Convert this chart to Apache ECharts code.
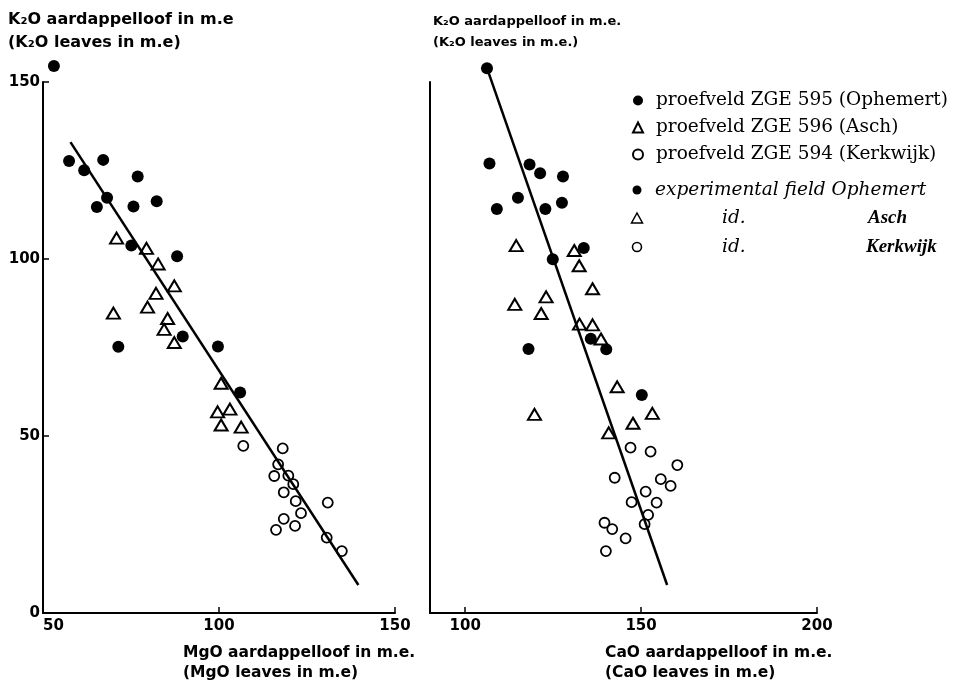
<!DOCTYPE html>
<html><head><meta charset="utf-8">
<script src="https://cdn.jsdelivr.net/npm/echarts@6/dist/echarts.min.js"></script>
<style>html,body{margin:0;padding:0;background:#fff}#c{width:964px;height:685px}</style>
</head><body><div id="c"></div>
<script>
// ---- data ----
const seriesNames = ['proefveld ZGE 595 (Ophemert)', 'proefveld ZGE 596 (Asch)', 'proefveld ZGE 594 (Kerkwijk)'];

// Left panel: [MgO, K2O]
const mgOphemert = [[53.1,154.5],[57.4,127.7],[61.7,125.1],[67.1,128],[76.9,123.3],[68.2,117.3],[65.3,114.7],[75.7,114.8],[82.3,116.3],[75.1,103.8],[88.1,100.8],[71.4,75.2],[89.7,78.1],[99.7,75.3],[106,62.3]];
const mgAsch = [[70.9,105.9],[79.4,103],[82.7,98.6],[87.3,92.4],[82.1,90.3],[70,84.7],[79.7,86.4],[85.4,83.2],[84.4,80.1],[87.3,76.4],[100.6,64.9],[99.6,56.8],[103.1,57.6],[100.6,53.1],[106.3,52.5]];
const mgKerkwijk = [[106.9,47.2],[118.1,46.5],[116.8,42],[115.7,38.7],[119.7,38.8],[121.1,36.4],[118.4,34.1],[121.8,31.6],[130.9,31.2],[123.3,28.2],[118.4,26.6],[121.6,24.6],[116.2,23.5],[130.6,21.3],[134.9,17.5]];
const mgFitLine = [[57.8,133],[139.6,7.9]];

// Right panel: [CaO, K2O]
const caOphemert = [[106.2,153.9],[106.9,127],[118.3,126.7],[121.3,124.2],[127.8,123.3],[115,117.3],[109,114.1],[122.8,114.1],[127.5,115.9],[133.7,103.1],[124.9,99.9],[135.7,77.5],[140.1,74.5],[118,74.6],[150.2,61.6]];
const caAsch = [[114.5,103.8],[131,102.4],[132.4,98.1],[136.2,91.6],[123,89.3],[114.1,87.2],[121.6,84.6],[132.5,81.6],[136.2,81.4],[138.6,77.4],[143.2,63.9],[119.7,56.1],[153.2,56.4],[147.7,53.6],[140.8,50.9]];
const caKerkwijk = [[147,46.7],[152.7,45.6],[160.3,41.8],[142.5,38.2],[155.6,37.8],[158.4,35.9],[151.3,34.3],[147.3,31.3],[154.4,31.2],[152,27.7],[151,25.1],[139.6,25.5],[141.8,23.7],[145.6,21.1],[140,17.5]];
const caFitLine = [[106.2,153.9],[157.4,7.9]];

const xTicksMg = [50, 100, 150];
const xTicksCa = [100, 150, 200];
const yTicks = [0, 50, 100, 150];

// ---- styling ----
const SANS = 'DejaVu Sans';
const SERIF = 'DejaVu Serif';
const axisLine = {show: true, lineStyle: {color: '#000', width: 2}};
const tick = {show: true, inside: true, length: 6, lineStyle: {color: '#000', width: 1.5}};
const lbl = {color: '#000', fontFamily: SANS, fontWeight: 'bold', fontSize: 15};

const filledStyle = {color: '#000', opacity: 1};
const triStyle = {color: '#fff', borderColor: '#000', borderWidth: 2, opacity: 1};
const ringStyle = {color: '#fff', borderColor: '#000', borderWidth: 1.8, opacity: 1};

function scatter(name, data, idx, symbol, size, style) {
  return {name, type: 'scatter', xAxisIndex: idx, yAxisIndex: idx, data, symbol, symbolSize: size,
    itemStyle: style, clip: false, z: 2, emphasis: {disabled: true}};
}
function fit(data, idx) {
  return {type: 'line', xAxisIndex: idx, yAxisIndex: idx, data, symbol: 'none', clip: false,
    lineStyle: {color: '#000', width: 2.5}, z: 3, silent: true};
}

function txt(x, y, text, font) {
  return {type: 'text', x, y, style: Object.assign({text, fill: '#000', textVerticalAlign: 'middle'}, font)};
}
const yTitleFont = {font: 'bold 16px "DejaVu Sans"'};
const yTitleFontR = {font: 'bold 13px "DejaVu Sans"'};
const xTitleFont = {font: 'bold 15.5px "DejaVu Sans"'};
const italicFont = {font: 'italic 18.5px "DejaVu Serif"'};
const boldItalicFont = {font: 'italic bold 19px "Liberation Serif"'};

const LX = 637; // legend marker centre x
const rowsY = [190, 218, 247];

const chart = echarts.init(document.getElementById('c'), null, {renderer: 'canvas'});
chart.setOption({
  animation: false,
  backgroundColor: '#fff',
  grid: [
    {left: 43, top: 82, width: 352, height: 531},
    {left: 430, top: 82, width: 387, height: 531}
  ],
  xAxis: [
    {gridIndex: 0, type: 'value', min: 50, max: 150, interval: 50, axisLine, axisTick: tick,
     axisLabel: Object.assign({margin: 6, alignMinLabel: 'left'}, lbl), splitLine: {show: false}},
    {gridIndex: 1, type: 'value', min: 90, max: 200, axisLine,
     axisTick: Object.assign({customValues: xTicksCa}, tick),
     axisLabel: Object.assign({margin: 6, customValues: xTicksCa}, lbl), splitLine: {show: false}}
  ],
  yAxis: [
    {gridIndex: 0, type: 'value', min: 0, max: 150, interval: 50, axisLine, axisTick: tick,
     axisLabel: Object.assign({margin: 3}, lbl), splitLine: {show: false}},
    {gridIndex: 1, type: 'value', min: 0, max: 150, interval: 50, axisLine, axisTick: {show: false},
     axisLabel: {show: false}, splitLine: {show: false}}
  ],
  legend: {
    orient: 'vertical', left: 632, top: 91, padding: 0, itemGap: 8,
    itemWidth: 10, itemHeight: 10,
    data: seriesNames,
    textStyle: {color: '#000', fontFamily: SERIF, fontSize: 18.5, padding: [0, 0, 0, 8]},
    selectedMode: false
  },
  series: [
    scatter(seriesNames[0], mgOphemert, 0, 'circle', 12, filledStyle),
    scatter(seriesNames[1], mgAsch, 0, 'triangle', [13, 11], triStyle),
    scatter(seriesNames[2], mgKerkwijk, 0, 'circle', 10, ringStyle),
    fit(mgFitLine, 0),
    scatter(seriesNames[0], caOphemert, 1, 'circle', 12, filledStyle),
    scatter(seriesNames[1], caAsch, 1, 'triangle', [13, 11], triStyle),
    scatter(seriesNames[2], caKerkwijk, 1, 'circle', 10, ringStyle),
    fit(caFitLine, 1)
  ],
  graphic: [
    // axis titles
    txt(8, 20, 'K₂O aardappelloof in m.e', yTitleFont),
    txt(8, 43, '(K₂O leaves in m.e)', yTitleFont),
    txt(433, 22, 'K₂O aardappelloof in m.e.', yTitleFontR),
    txt(433, 43, '(K₂O leaves in m.e.)', yTitleFontR),
    txt(183, 653, 'MgO aardappelloof in m.e.', xTitleFont),
    txt(183, 673, '(MgO leaves in m.e)', xTitleFont),
    txt(605, 653, 'CaO aardappelloof in m.e.', xTitleFont),
    txt(605, 673, '(CaO leaves in m.e)', xTitleFont),
    // second (English) legend block
    {type: 'circle', shape: {cx: LX, cy: rowsY[0], r: 4.5}, style: {fill: '#000'}},
    txt(655, rowsY[0], 'experimental field Ophemert', italicFont),
    {type: 'polygon', shape: {points: [[LX, rowsY[1] - 5], [LX - 5.5, rowsY[1] + 5], [LX + 5.5, rowsY[1] + 5]]},
     style: {fill: '#fff', stroke: '#000', lineWidth: 1.5}},
    txt(722, rowsY[1], 'id.', italicFont),
    txt(868, rowsY[1], 'Asch', boldItalicFont),
    {type: 'circle', shape: {cx: LX, cy: rowsY[2], r: 4.5}, style: {fill: '#fff', stroke: '#000', lineWidth: 1.6}},
    txt(722, rowsY[2], 'id.', italicFont),
    txt(866, rowsY[2], 'Kerkwijk', boldItalicFont)
  ]
});
</script>
</body></html>
